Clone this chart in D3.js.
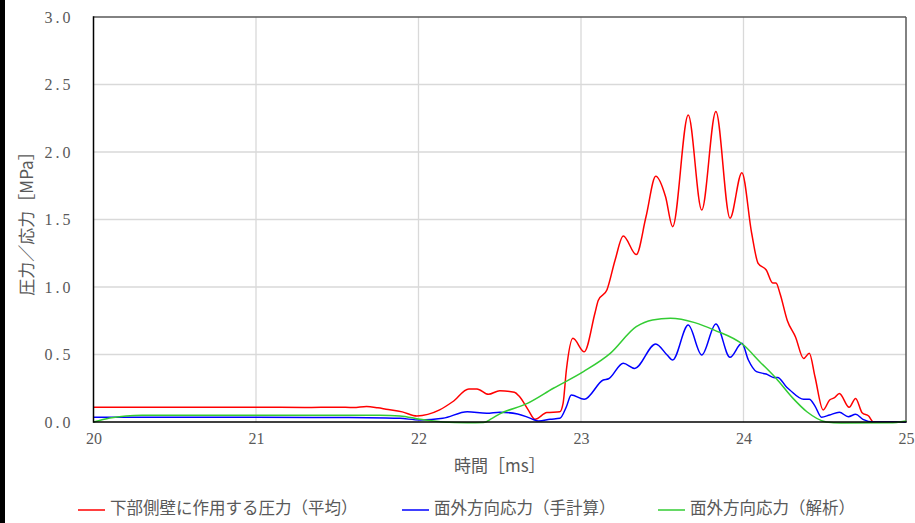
<!DOCTYPE html>
<html>
<head>
<meta charset="utf-8">
<script src="https://cdn.jsdelivr.net/npm/d3@7"></script>
<style>
  html, body { margin: 0; padding: 0; background: #fff; }
  svg { display: block; }
</style>
</head>
<body>
<svg id="chart" width="915" height="523"></svg>
<script>
// Axis ticks
const xTicks = [20, 21, 22, 23, 24, 25];
const yTicks = [0, 0.5, 1.0, 1.5, 2.0, 2.5, 3.0];

// Series names
const seriesNames = ["下部側壁に作用する圧力（平均）", "面外方向応力（手計算）", "面外方向応力（解析）"];

// Pressure on the lower side wall (average) [MPa] vs time [ms]
const pressureT = [20.0, 20.5, 21.0, 21.3, 21.5, 21.6, 21.68, 21.75, 21.8, 21.9, 21.99, 22.13, 22.21, 22.31, 22.36, 22.43, 22.5, 22.59, 22.62, 22.675, 22.717, 22.79, 22.87, 22.89, 22.91, 22.95, 23.02, 23.086, 23.106, 23.16, 23.21, 23.26, 23.34, 23.40, 23.46, 23.52, 23.564, 23.66, 23.743, 23.83, 23.917, 23.99, 24.05, 24.09, 24.14, 24.18, 24.20, 24.225, 24.27, 24.32, 24.37, 24.405, 24.44, 24.49, 24.53, 24.56, 24.59, 24.65, 24.69, 24.73, 24.77, 24.80, 25.0];
const pressureV = [0.11, 0.11, 0.11, 0.107, 0.11, 0.107, 0.115, 0.105, 0.095, 0.075, 0.045, 0.09, 0.15, 0.245, 0.245, 0.205, 0.232, 0.22, 0.19, 0.09, 0.02, 0.07, 0.076, 0.14, 0.385, 0.62, 0.52, 0.807, 0.90, 0.98, 1.2, 1.378, 1.24, 1.52, 1.82, 1.67, 1.447, 2.274, 1.57, 2.30, 1.51, 1.847, 1.40, 1.175, 1.126, 1.03, 1.03, 0.95, 0.75, 0.63, 0.47, 0.51, 0.335, 0.089, 0.163, 0.18, 0.212, 0.109, 0.175, 0.069, 0.044, 0.0, 0.0];

// Out-of-plane stress, hand calculation [MPa]
const handT = [20.0, 21.0, 21.5, 21.8, 21.886, 22.01, 22.15, 22.30, 22.42, 22.50, 22.61, 22.69, 22.74, 22.81, 22.87, 22.91, 22.94, 23.02, 23.137, 23.17, 23.26, 23.33, 23.46, 23.53, 23.564, 23.66, 23.743, 23.83, 23.917, 23.99, 24.03, 24.08, 24.14, 24.19, 24.21, 24.266, 24.285, 24.37, 24.405, 24.44, 24.48, 24.53, 24.59, 24.645, 24.69, 24.735, 24.80, 25.0];
const handV = [0.035, 0.035, 0.033, 0.03, 0.027, 0.015, 0.027, 0.076, 0.064, 0.072, 0.06, 0.027, 0.007, 0.02, 0.027, 0.113, 0.20, 0.168, 0.311, 0.32, 0.435, 0.397, 0.578, 0.496, 0.459, 0.718, 0.496, 0.726, 0.479, 0.583, 0.459, 0.373, 0.355, 0.328, 0.33, 0.257, 0.237, 0.168, 0.168, 0.118, 0.035, 0.052, 0.072, 0.039, 0.057, 0.02, 0.0, 0.0];

// Out-of-plane stress, FE analysis [MPa]
const analysisT = [20.0, 20.1, 20.2, 20.3, 21.0, 21.76, 21.886, 22.01, 22.15, 22.3, 22.4, 22.45, 22.50, 22.67, 22.83, 23.015, 23.18, 23.34, 23.44, 23.55, 23.70, 23.82, 24.0, 24.10, 24.20, 24.305, 24.39, 24.51, 24.6, 24.9, 25.0];
const analysisV = [0.0, 0.03, 0.045, 0.05, 0.05, 0.05, 0.045, 0.02, 0.0, -0.006, -0.004, 0.025, 0.06, 0.138, 0.25, 0.373, 0.508, 0.706, 0.756, 0.768, 0.736, 0.681, 0.57, 0.447, 0.324, 0.175, 0.076, 0.0, -0.008, -0.006, 0.008];

const seriesColors = ["#ff0000", "#0000ff", "#33cc33"];

const svg = d3.select("#chart");
const W = 915, H = 523;
const plot = { left: 93.5, right: 906, top: 17, bottom: 422 };

const x = d3.scaleLinear().domain([20, 25]).range([plot.left, plot.right]);
const y = d3.scaleLinear().domain([0, 3]).range([plot.bottom, plot.top]);

const textColor = "#595959";
const cjkFont = "'Noto Sans CJK JP', 'Noto Sans', sans-serif";
const numFont = "'Liberation Serif', 'DejaVu Serif', serif";

// dark strip along the left edge of the canvas
svg.append("rect").attr("x", 0).attr("y", 0).attr("width", 5).attr("height", H).attr("fill", "#000");

// gridlines
const grid = svg.append("g");
grid.selectAll("line.h").data(yTicks.filter(d => d > 0 && d < 3)).join("line")
  .attr("x1", plot.left).attr("x2", plot.right)
  .attr("y1", d => y(d)).attr("y2", d => y(d))
  .attr("stroke", "#d9d9d9").attr("stroke-width", 1.3);
grid.selectAll("line.v").data(xTicks.filter(d => d > 20 && d < 25)).join("line")
  .attr("x1", d => x(d)).attr("x2", d => x(d))
  .attr("y1", plot.top).attr("y2", plot.bottom)
  .attr("stroke", "#d9d9d9").attr("stroke-width", 1.3);

// plot frame: top and right in dark grey
svg.append("line").attr("x1", plot.left).attr("x2", plot.right).attr("y1", plot.top).attr("y2", plot.top)
  .attr("stroke", "#595959").attr("stroke-width", 1.5);
svg.append("line").attr("x1", plot.right).attr("x2", plot.right).attr("y1", plot.top).attr("y2", plot.bottom)
  .attr("stroke", "#595959").attr("stroke-width", 1.5);

// axes (labels only, no tick marks)
const xAxis = d3.axisBottom(x).tickValues(xTicks).tickSize(0).tickPadding(11).tickFormat(d3.format("d"));
const yAxis = d3.axisLeft(y).tickValues(yTicks).tickSize(0).tickPadding(20).tickFormat(d3.format(".1f"));

const gx = svg.append("g").attr("transform", `translate(0,${plot.bottom})`).call(xAxis);
const gy = svg.append("g").attr("transform", `translate(${plot.left},0)`).call(yAxis);
[gx, gy].forEach(g => {
  g.select(".domain").remove();
  g.selectAll("text").attr("fill", textColor).style("font-family", numFont).style("font-size", "16px");
});
gy.selectAll("text").style("letter-spacing", "3px");

// series lines
const line = d3.line().x(d => x(d[0])).y(d => y(d[1])).curve(d3.curveMonotoneX);
const series = [
  d3.zip(pressureT, pressureV),
  d3.zip(handT, handV),
  d3.zip(analysisT, analysisV)
];
svg.append("g").selectAll("path").data(series).join("path")
  .attr("d", line)
  .attr("fill", "none")
  .attr("stroke", (d, i) => seriesColors[i])
  .attr("stroke-width", 1.5)
  .attr("stroke-linejoin", "round");

// left and bottom axis lines in black, drawn on top
svg.append("line").attr("x1", plot.left).attr("x2", plot.left).attr("y1", plot.top - 0.75).attr("y2", plot.bottom + 0.75)
  .attr("stroke", "#000").attr("stroke-width", 1.5);
svg.append("line").attr("x1", plot.left).attr("x2", plot.right + 0.75).attr("y1", plot.bottom).attr("y2", plot.bottom)
  .attr("stroke", "#000").attr("stroke-width", 1.5);

// axis titles
svg.append("text")
  .attr("x", (plot.left + plot.right) / 2).attr("y", 467)
  .attr("text-anchor", "middle").attr("dominant-baseline", "middle")
  .attr("fill", textColor).style("font-family", cjkFont).style("font-size", "17px")
  .text("時間［ms］");

svg.append("text")
  .attr("transform", `translate(28,${(plot.top + plot.bottom) / 2}) rotate(-90)`)
  .attr("text-anchor", "middle").attr("dominant-baseline", "middle")
  .attr("fill", textColor).style("font-family", cjkFont).style("font-size", "17px")
  .text("圧力／応力［MPa］");

// legend
const legendX = [78, 402, 658];
const legend = svg.append("g").selectAll("g").data(seriesNames).join("g")
  .attr("transform", (d, i) => `translate(${legendX[i]},510)`);
legend.append("line").attr("x1", 0).attr("x2", 27).attr("y1", 0).attr("y2", 0)
  .attr("stroke", (d, i) => seriesColors[i]).attr("stroke-width", 1.5);
legend.append("text").attr("x", 32).attr("y", 0)
  .attr("dominant-baseline", "middle")
  .attr("fill", textColor).style("font-family", cjkFont).style("font-size", "16.5px")
  .text(d => d);
</script>
</body>
</html>
